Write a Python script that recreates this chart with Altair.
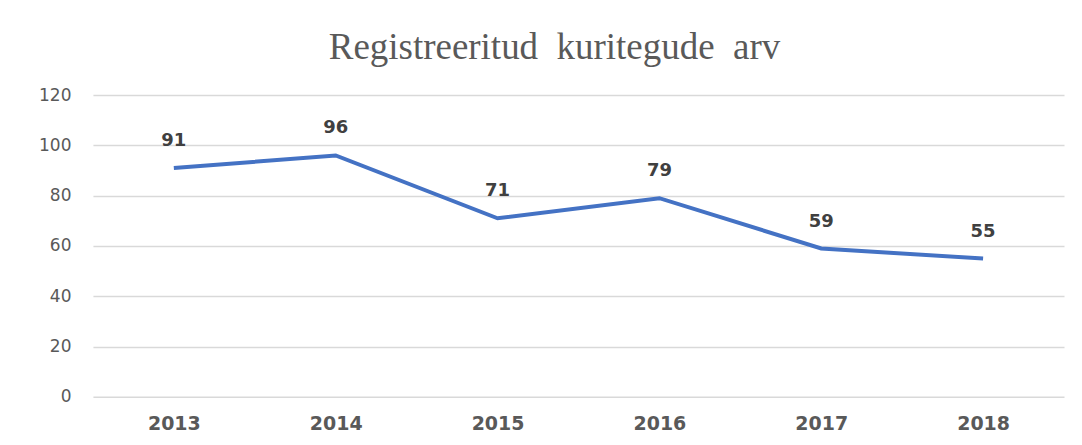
import altair as alt
import pandas as pd

years = ["2013", "2014", "2015", "2016", "2017", "2018"]
values = [91, 96, 71, 79, 59, 55]
title_text = "Registreeritud\u00a0\u00a0kuritegude\u00a0\u00a0arv"

df = pd.DataFrame({"year": years, "value": values})

x = alt.X("year:O", sort=years, title=None,
          scale=alt.Scale(paddingOuter=0.5, paddingInner=0),
          axis=alt.Axis(labelAngle=0, labelFontWeight="bold", labelFontSize=19,
                        labelFont="DejaVu Sans", labelColor="#595959",
                        labelPadding=18, domain=False, ticks=False, grid=False))
y = alt.Y("value:Q", title=None,
          scale=alt.Scale(domain=[0, 120], nice=False),
          axis=alt.Axis(values=[0, 20, 40, 60, 80, 100, 120], labelFontSize=17,
                        labelFont="DejaVu Sans", labelColor="#595959",
                        labelPadding=22, domain=False, ticks=False,
                        grid=True, gridColor="#d9d9d9", gridWidth=1.5))

base = alt.Chart(df).encode(x=x, y=y)

line = base.mark_line(color="#4472C4", strokeWidth=4)
labels = base.mark_text(dy=-27, fontSize=18, fontWeight="bold",
                        font="DejaVu Sans", color="#404040").encode(text="value:Q")

chart = (line + labels).properties(
    width=972, height=302,
    background="white",
    title=alt.TitleParams(title_text, font="Liberation Serif", fontSize=37,
                          fontWeight="normal", color="#595959",
                          anchor="middle", frame="group", offset=19, dx=-24),
    padding={"left": 85, "top": 87, "right": 10, "bottom": 40},
    autosize=alt.AutoSizeParams(type="none"),
).configure_view(stroke=None, strokeWidth=0)

chart.save("out.html", embed_options={"renderer": "svg", "actions": False})
